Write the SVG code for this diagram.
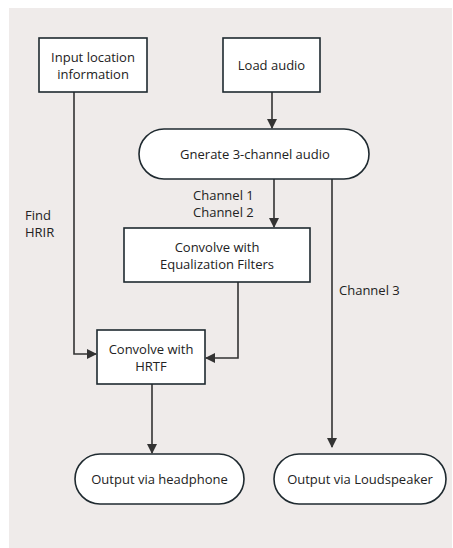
<svg xmlns="http://www.w3.org/2000/svg" width="453" height="548" viewBox="0 0 453 548">
<defs>
<style>
.n{fill:#ffffff;stroke:#1f2a30;stroke-width:1.6}
.t{font-family:"Open Sans","Noto Sans",sans-serif;font-size:13px;fill:#222;text-anchor:middle}
.l{font-family:"Open Sans","Noto Sans",sans-serif;font-size:13px;fill:#222}
.c{fill:none;stroke:#333;stroke-width:1.6}
</style>
<marker id="a" markerWidth="10" markerHeight="10" refX="9" refY="5" orient="auto" markerUnits="userSpaceOnUse">
<path d="M0,0 L10,5 L0,10 Z" fill="#333"/>
</marker>
</defs>
<rect width="453" height="548" fill="#ffffff"/>
<rect x="9" y="8" width="443" height="540" fill="#efebea"/>
<g id="connectors">
<path class="c" d="M272,92 V128" marker-end="url(#a)"/>
<path class="c" d="M274,179 V227" marker-end="url(#a)"/>
<path class="c" d="M332,179 V447" marker-end="url(#a)"/>
<path class="c" d="M74,92 V354 H96" marker-end="url(#a)"/>
<path class="c" d="M238,282 V358 H206" marker-end="url(#a)"/>
<path class="c" d="M152,384 V453" marker-end="url(#a)"/>
<text class="l" x="193" y="199.5">Channel 1</text>
<text class="l" x="193" y="216.5">Channel 2</text>
<text class="l" x="25" y="219.5">Find</text>
<text class="l" x="25" y="236.5">HRIR</text>
<text class="l" x="339" y="295">Channel 3</text>
</g>
<g id="input">
<rect class="n" x="39" y="38" width="108" height="54"/>
<text class="t" x="93" y="61.5">Input location</text>
<text class="t" x="93" y="78.5">information</text>
</g>
<g id="load">
<rect class="n" x="223" y="38" width="97" height="54"/>
<text class="t" x="271.5" y="70">Load audio</text>
</g>
<g id="generate">
<rect class="n" x="139" y="129" width="230" height="50" rx="25" ry="25"/>
<text class="t" x="255" y="159">Gnerate 3-channel audio</text>
</g>
<g id="eq">
<rect class="n" x="124" y="228" width="186" height="54"/>
<text class="t" x="217" y="251.5">Convolve with</text>
<text class="t" x="217" y="268.5">Equalization Filters</text>
</g>
<g id="hrtf">
<rect class="n" x="97" y="330" width="108" height="54"/>
<text class="t" x="151" y="353.5">Convolve with</text>
<text class="t" x="151" y="370.5">HRTF</text>
</g>
<g id="headphone">
<rect class="n" x="75" y="454" width="169" height="50" rx="25" ry="25"/>
<text class="t" x="159.5" y="484">Output via headphone</text>
</g>
<g id="loudspeaker">
<rect class="n" x="274" y="454" width="172" height="50" rx="25" ry="25"/>
<text class="t" x="360" y="484">Output via Loudspeaker</text>
</g>
</svg>
